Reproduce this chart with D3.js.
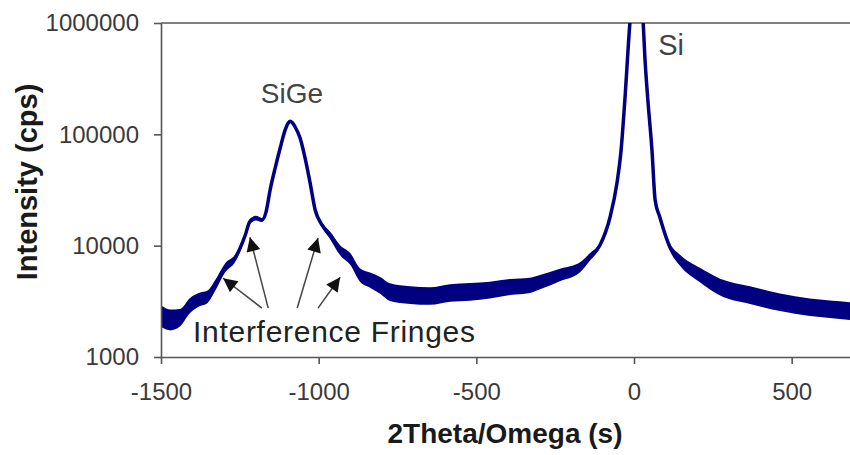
<!DOCTYPE html>
<html>
<head>
<meta charset="utf-8">
<script src="https://cdn.jsdelivr.net/npm/d3@7"></script>
<style>
    body { margin: 0; background: #fff; }
    text { font-family: Arial, "Liberation Sans", sans-serif; }
</style>
</head>
<body>
<div id="chart"></div>
<script>

// scan readings
var twoTheta = [-1497, -1470, -1440, -1408, -1376, -1354, -1328, -1297, -1265, -1233,
    -1218, -1198, -1180, -1167, -1154, -1138, -1122, -1107, -1097, -1091, -1084, -1075,
    -1059, -1043, -1027, -1011, -989, -964, -932, -900, -869, -837,
    -805, -774, -710, -647, -583, -520, -457, -393, -330, -298,
    -235, -171, -140, -108, -76, -54, -41, -29, -13, 6,
    29, 35, 44, 57, 67, 82, 114, 146, 209, 273,
    368, 463, 558, 653, 685];
var intensity = [2300, 2150, 2250, 2900, 3300, 3450, 4400, 6300, 7700, 12400,
    16500, 17700, 17000, 20000, 31600, 49800, 75300, 108000, 126000, 131000, 128000, 117000,
    92600, 61200, 36500, 20900, 15300, 12400, 9100, 7600, 5450, 4900,
    4400, 3830, 3600, 3530, 3760, 3850, 3990, 4250, 4400, 4700,
    5450, 6400, 7900, 10100, 18000, 36500, 72000, 203000, 1000000, 3000000,
    1000000, 465000, 203000, 72000, 25700, 18000, 9700, 7400, 5450, 4250,
    3600, 3100, 2800, 2640, 2580];
// spread of the noisy band (ratio above/below the trace)
var noise = [1.25, 1.24, 1.2, 1.17, 1.15, 1.14, 1.12, 1.1, 1.08, 1.06,
    1.05, 1.05, 1.04, 1.03, 1, 1, 1, 1, 1, 1, 1, 1,
    1, 1, 1, 1.02, 1.05, 1.08, 1.11, 1.13, 1.15, 1.17,
    1.19, 1.2, 1.2, 1.2, 1.2, 1.2, 1.19, 1.18, 1.17, 1.16,
    1.14, 1.11, 1.08, 1.05, 1.03, 1, 1, 1, 1, 1,
    1, 1, 1, 1, 1, 1.03, 1.08, 1.12, 1.16, 1.19,
    1.2, 1.2, 1.2, 1.2, 1.2];

var xTicks = [-1500, -1000, -500, 0, 500];
var yTicks = [1000, 10000, 100000, 1000000];

var peakLabels = ["SiGe", "Si"];
var fringeLabel = "Interference Fringes";
// arrow tips on the fringes [2theta, cps] and tails [2theta, cps]
var fringeTips = [[-1303, 5100], [-1218, 11900], [-1002, 11700], [-932, 5200]];
var fringeTails = [[-1180, 2750], [-1160, 2750], [-1068, 2750], [-1002, 2750]];

var width = 850, height = 455;
var margin = { top: 23, right: 0, bottom: 98, left: 161 };

var svg = d3.select("#chart").append("svg")
    .attr("width", width)
    .attr("height", height);

var x = d3.scaleLinear()
    .domain([-1500, 685])
    .range([margin.left, width - margin.right]);

var y = d3.scaleLog()
    .domain([1000, 1000000])
    .range([height - margin.bottom, margin.top]);

var data = twoTheta.map(function (t, i) {
    return { t: t, v: intensity[i], n: noise[i] };
});

svg.append("clipPath")
    .attr("id", "plot")
    .append("rect")
    .attr("x", margin.left)
    .attr("y", margin.top)
    .attr("width", width - margin.left - margin.right)
    .attr("height", height - margin.top - margin.bottom);

// top frame line
svg.append("line")
    .attr("x1", margin.left).attr("x2", width)
    .attr("y1", margin.top).attr("y2", margin.top)
    .attr("stroke", "#555").attr("stroke-width", 1.6);

var band = d3.area()
    .curve(d3.curveMonotoneX)
    .x(function (d) { return x(d.t); })
    .y0(function (d) { return y(d.v / d.n); })
    .y1(function (d) { return y(d.v * d.n); });

var trace = d3.line()
    .curve(d3.curveMonotoneX)
    .x(function (d) { return x(d.t); })
    .y(function (d) { return y(d.v); });

var g = svg.append("g").attr("clip-path", "url(#plot)");

g.append("path")
    .datum(data)
    .attr("d", band)
    .attr("fill", "#000080");

g.append("path")
    .datum(data)
    .attr("d", trace)
    .attr("fill", "none")
    .attr("stroke", "#000080")
    .attr("stroke-width", 3.5)
    .attr("stroke-linejoin", "round");

// axes
var xAxis = svg.append("g")
    .attr("transform", "translate(0," + (height - margin.bottom) + ")")
    .call(d3.axisBottom(x).tickValues(xTicks).tickSize(7).tickSizeOuter(0)
        .tickFormat(function (d) { return String(d); }));

var yAxis = svg.append("g")
    .attr("transform", "translate(" + margin.left + ",0)")
    .call(d3.axisLeft(y).tickValues(yTicks).tickSize(7).tickSizeOuter(0)
        .tickFormat(function (d) { return String(d); }));

[xAxis, yAxis].forEach(function (a) {
    a.select(".domain").attr("stroke", "#555").attr("stroke-width", 1.6);
    a.selectAll(".tick line").attr("stroke", "#555").attr("stroke-width", 1.6);
    a.selectAll(".tick text")
        .attr("font-size", 24)
        .attr("font-family", "Arial, 'Liberation Sans', sans-serif")
        .attr("fill", "#3a3a3a");
});
xAxis.selectAll(".tick text").attr("y", 26);
yAxis.selectAll(".tick text").attr("x", -22);

// axis titles
svg.append("text")
    .attr("x", 505)
    .attr("y", 443)
    .attr("text-anchor", "middle")
    .attr("font-size", 28)
    .attr("font-weight", "bold")
    .attr("fill", "#1a1a1a")
    .text("2Theta/Omega (s)");

svg.append("text")
    .attr("transform", "translate(37,182) rotate(-90)")
    .attr("text-anchor", "middle")
    .attr("font-size", 29)
    .attr("font-weight", "bold")
    .attr("fill", "#1a1a1a")
    .text("Intensity (cps)");

// annotations
svg.append("text")
    .attr("x", x(-1085))
    .attr("y", 103)
    .attr("text-anchor", "middle")
    .attr("font-size", 28)
    .attr("fill", "#444")
    .text(peakLabels[0]);

svg.append("text")
    .attr("x", x(77))
    .attr("y", 55)
    .attr("font-size", 29)
    .attr("fill", "#444")
    .text(peakLabels[1]);

svg.append("text")
    .attr("x", 193)
    .attr("y", 342)
    .attr("textLength", 282)
    .attr("font-size", 30)
    .attr("fill", "#222")
    .text(fringeLabel);

svg.append("defs").append("marker")
    .attr("id", "head")
    .attr("viewBox", "0 0 10 10")
    .attr("refX", 10).attr("refY", 5)
    .attr("markerWidth", 16).attr("markerHeight", 14)
    .attr("markerUnits", "userSpaceOnUse")
    .attr("orient", "auto")
    .append("path")
    .attr("d", "M0,0 L10,5 L0,10 z")
    .attr("fill", "#111");

svg.selectAll(".arrow")
    .data(fringeTips)
    .enter()
    .append("line")
    .attr("class", "arrow")
    .attr("x1", function (d, i) { return x(fringeTails[i][0]); })
    .attr("y1", function (d, i) { return y(fringeTails[i][1]); })
    .attr("x2", function (d) { return x(d[0]); })
    .attr("y2", function (d) { return y(d[1]); })
    .attr("stroke", "#444")
    .attr("stroke-width", 1.5)
    .attr("marker-end", "url(#head)");

</script>
</body>
</html>
